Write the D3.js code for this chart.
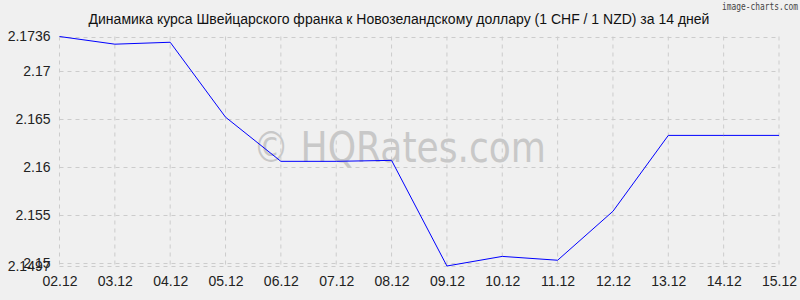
<!DOCTYPE html>
<html>
<head>
<meta charset="utf-8">
<script src="https://cdn.jsdelivr.net/npm/d3@7"></script>
<style>
  body { margin: 0; background: #f0f0f0; }
  svg { display: block; font-family: "Liberation Sans", Arial, sans-serif; }
</style>
</head>
<body>
<div id="chart"></div>
<script>
// CHF / NZD over 14 days
const dates = ['02.12', '03.12', '04.12', '05.12', '06.12', '07.12', '08.12',
  '09.12', '10.12', '11.12', '12.12', '13.12', '14.12', '15.12'];
const rates = [2.1736, 2.1728, 2.1730, 2.1652, 2.1606, 2.1606, 2.1607,
  2.1497, 2.1507, 2.1503, 2.1554, 2.1633, 2.1633, 2.1633];
const yTicks = [2.1497, 2.15, 2.155, 2.16, 2.165, 2.17, 2.1736];
const yMin = 2.1497;
const yMax = 2.1736;

const width = 800;
const height = 300;
const margin = { top: 36.5, right: 21, bottom: 34, left: 59.5 };

const svg = d3.select('#chart')
  .append('svg')
  .attr('width', width)
  .attr('height', height);

svg.append('rect')
  .attr('width', width)
  .attr('height', height)
  .attr('fill', '#f0f0f0');

const x = d3.scalePoint()
  .domain(dates)
  .range([margin.left, width - margin.right]);

const y = d3.scaleLinear()
  .domain([yMin, yMax])
  .range([height - margin.bottom, margin.top]);

// grid
svg.append('g')
  .selectAll('line')
  .data(dates)
  .join('line')
  .attr('x1', d => x(d))
  .attr('x2', d => x(d))
  .attr('y1', margin.top)
  .attr('y2', height - margin.bottom)
  .attr('stroke', '#cccccc')
  .attr('stroke-dasharray', '4,4');

svg.append('g')
  .selectAll('line')
  .data(yTicks)
  .join('line')
  .attr('x1', margin.left)
  .attr('x2', width - margin.right)
  .attr('y1', d => Math.round(y(d)) + 0.5)
  .attr('y2', d => Math.round(y(d)) + 0.5)
  .attr('stroke', '#cccccc')
  .attr('stroke-dasharray', '4,4');

// watermark
svg.append('text')
  .attr('x', 253)
  .attr('y', 162)
  .attr('font-family', '"DejaVu Sans", sans-serif')
  .attr('font-size', 43)
  .attr('textLength', 293)
  .attr('lengthAdjust', 'spacingAndGlyphs')
  .attr('fill', '#c8c8c8')
  .text('© HQRates.com');

// axes
const xAxis = svg.append('g')
  .attr('transform', `translate(0,${height - margin.bottom})`)
  .call(d3.axisBottom(x).tickSize(0).tickPadding(10));
xAxis.select('.domain').remove();
xAxis.selectAll('text')
  .attr('font-size', 14)
  .attr('fill', '#222');

const yAxis = svg.append('g')
  .attr('transform', `translate(${margin.left - 9},0)`)
  .call(d3.axisLeft(y).tickValues(yTicks).tickSize(0).tickPadding(0)
    .tickFormat(d => String(d)));
yAxis.select('.domain').remove();
yAxis.selectAll('text')
  .attr('font-size', 14)
  .attr('fill', '#222');

// line
const line = d3.line()
  .x((d, i) => x(dates[i]))
  .y(d => y(d));

svg.append('path')
  .datum(rates)
  .attr('fill', 'none')
  .attr('stroke', '#0000ff')
  .attr('stroke-width', 1)
  .attr('d', line);

// title
svg.append('text')
  .attr('x', 399)
  .attr('y', 24)
  .attr('text-anchor', 'middle')
  .attr('font-size', 14)
  .attr('fill', '#111')
  .text('Динамика курса Швейцарского франка к Новозеландскому доллару (1 CHF / 1 NZD) за 14 дней');

svg.append('text')
  .attr('x', 722)
  .attr('y', 10)
  .attr('font-family', '"DejaVu Sans Mono", monospace')
  .attr('font-size', 10)
  .attr('textLength', 76)
  .attr('lengthAdjust', 'spacingAndGlyphs')
  .attr('fill', '#444')
  .text('image-charts.com');
</script>
</body>
</html>
